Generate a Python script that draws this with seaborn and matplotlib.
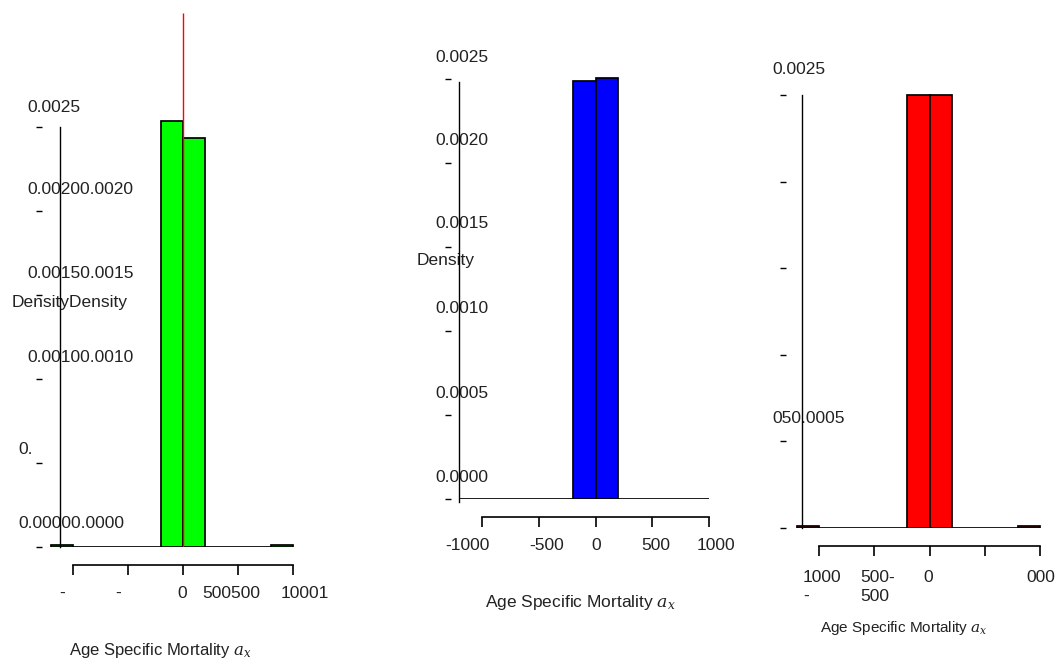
import numpy as np
import pandas as pd
import matplotlib
matplotlib.use('Agg')
import matplotlib.pyplot as plt
import matplotlib.transforms as mtransforms
import seaborn as sns

# --- data ---
bin_edges = [-1200, -1000, -800, -600, -400, -200, 0, 200, 400, 600, 800, 1000]
bin_mids = [-1100, -900, -700, -500, -300, -100, 100, 300, 500, 700, 900]
green_density = [0.00001, 0, 0, 0, 0, 0.002536, 0.002435, 0, 0, 0, 0.00001]
blue_density = [0, 0, 0, 0, 0, 0.002488, 0.002506, 0, 0, 0, 0]
red_density = [0.00001, 0, 0, 0, 0, 0.0025, 0.0025, 0, 0, 0, 0.00001]

mean_line_x = 0
mean_line_top = 0.00318

y_ticks = [0.0, 0.0005, 0.0010, 0.0015, 0.0020, 0.0025]
x_ticks = [-1000, -500, 0, 500, 1000]

green_ytick_labels = ['0.00000.0000', '0.', '0.00100.0010', '0.00150.0015', '0.00200.0020', '0.0025']
blue_ytick_labels = ['0.0000', '0.0005', '0.0010', '0.0015', '0.0020', '0.0025']
red_ytick_labels = ['', '050.0005', '', '', '', '0.0025']

green_xtick_labels = ['-', '-', '0', '500500', '10001']
blue_xtick_labels = ['-1000', '-500', '0', '500', '1000']
red_xtick_labels = ['1000\n-', '500-\n500', '0', '', '000']

xlabel_text = 'Age Specific Mortality $a_x$'

# --- style ---
sns.set_theme(style='white')
plt.rcParams['font.family'] = ['Liberation Sans', 'DejaVu Sans']
plt.rcParams['mathtext.fontset'] = 'dejavuserif'
plt.rcParams['axes.unicode_minus'] = False
TXT = '#222222'

W, H, DPI = 1060, 660, 100
fig = plt.figure(figsize=(W / DPI, H / DPI), dpi=DPI)
fig.patch.set_facecolor('white')

# pixel (from top-left) -> display
px_trans = mtransforms.Affine2D().scale(1 / W, -1 / H).translate(0, 1) + fig.transFigure


def lin(d, d0, p0, d1, p1):
    return p0 + (d - d0) * (p1 - p0) / (d1 - d0)


def draw_panel(density, color, xlim, ylim, xa, ya):
    x0, x1 = lin(xlim[0], *xa), lin(xlim[1], *xa)
    y0, y1 = lin(ylim[0], *ya), lin(ylim[1], *ya)
    ax = fig.add_axes([x0 / W, 1 - y0 / H, (x1 - x0) / W, (y0 - y1) / H])
    ax.patch.set_alpha(0)
    sns.histplot(x=bin_mids, weights=density, bins=bin_edges, stat='count',
                 color=color, edgecolor='black', linewidth=1.25, alpha=1, ax=ax)
    ax.set_xlim(xlim)
    ax.set_ylim(ylim)
    return ax, x0


def style_axes(ax, ax_left_px, spine_x, spine_bounds, ylabels, y_left, y_dy,
               xlabels, x_dx, x_ha, xpad, lsize=12.5):
    ax.spines['left'].set_visible(False)
    ax.spines['top'].set_visible(False)
    ax.spines['right'].set_position(('data', spine_x))
    ax.spines['right'].set_bounds(*spine_bounds)
    ax.spines['bottom'].set_position(('outward', 13))
    ax.spines['bottom'].set_bounds(x_ticks[0], x_ticks[-1])
    for s in ['right', 'bottom']:
        ax.spines[s].set_color('black')
    ax.spines['right'].set_linewidth(1.0)
    ax.spines['bottom'].set_linewidth(1.2)

    ax.set_yticks(y_ticks, ylabels)
    ax.set_xticks(x_ticks, xlabels)
    ax.tick_params(axis='y', left=True, right=False, direction='out', length=4.3,
                   width=1.0, pad=0, labelsize=lsize, color='black', labelcolor=TXT)
    ax.tick_params(axis='x', bottom=True, top=False, direction='out', length=7.2,
                   width=1.2, pad=xpad, labelsize=lsize, color='black', labelcolor=TXT)

    anchor = ax_left_px - 6
    for lab, left, dy in zip(ax.get_yticklabels(), y_left, y_dy):
        lab.set_ha('left')
        lab.set_va('center')
        lab.set_transform(lab.get_transform() + mtransforms.ScaledTranslation(
            (left - anchor) / DPI, dy / DPI, fig.dpi_scale_trans))
    for lab, dx, ha in zip(ax.get_xticklabels(), x_dx, x_ha):
        lab.set_ha(ha)
        lab.set_linespacing(1.3)
        lab.set_transform(lab.get_transform() + mtransforms.ScaledTranslation(
            dx / DPI, 0, fig.dpi_scale_trans))


# --- panel 1: green ---
ax1, l1 = draw_panel(green_density, '#00FF00', (-1280, 1100), (0, 0.00322),
                     (-1000, 73, 1000, 293), (0, 547, 0.0025, 127))
ax1.vlines(mean_line_x, 0, mean_line_top, color='#FF0000', linewidth=1.0, zorder=5)
style_axes(ax1, l1, -1120, (0, 0.0025), green_ytick_labels,
           [18, 18, 27, 27, 27, 27], [24, 13, 22, 22, 22, 20],
           green_xtick_labels, [-11, -10, -1, -7, 12], ['center'] * 5, 8)
ax1.set_ylabel('DensityDensity', rotation=0, fontsize=12.5, color=TXT, ha='left', va='center')
ax1.yaxis.set_label_coords(12, 303, transform=px_trans)
ax1.set_xlabel(xlabel_text, fontsize=12, color=TXT, va='center')
ax1.xaxis.set_label_coords(160, 650, transform=px_trans)

# --- panel 2: blue ---
ax2, l2 = draw_panel(blue_density, '#0000FF', (-1273, 1100), (0, 0.00262),
                     (-1000, 482, 1000, 709), (0, 499, 0.0025, 79))
style_axes(ax2, l2, -1200, (-0.00002, 0.00248), blue_ytick_labels,
           [435] * 6, [22, 22, 23, 24, 23, 22],
           blue_xtick_labels, [-15, 8, 1, 4, 7], ['center'] * 5, 8)
ax2.set_ylabel('Density', rotation=0, fontsize=12.5, color=TXT, ha='left', va='center')
ax2.yaxis.set_label_coords(417, 260, transform=px_trans)
ax2.set_xlabel(xlabel_text, fontsize=12.5, color=TXT, va='center')
ax2.xaxis.set_label_coords(580, 603, transform=px_trans)

# --- panel 3: red ---
ax3, l3 = draw_panel(red_density, '#FF0000', (-1299, 1080), (0, 0.00262),
                     (-1000, 819, 1000, 1040), (0, 528, 0.0025, 95))
style_axes(ax3, l3, -1154, (0, 0.0025), red_ytick_labels,
           [772] * 6, [24, 23, 24, 24, 24, 26],
           red_xtick_labels, [-16, -14, -1, 0, 1], ['left', 'left', 'center', 'center', 'center'], 10)
ax3.set_ylabel('')
ax3.set_xlabel(xlabel_text, fontsize=11, color=TXT, va='center')
ax3.xaxis.set_label_coords(904, 628, transform=px_trans)

fig.savefig('out.png', dpi=DPI)
